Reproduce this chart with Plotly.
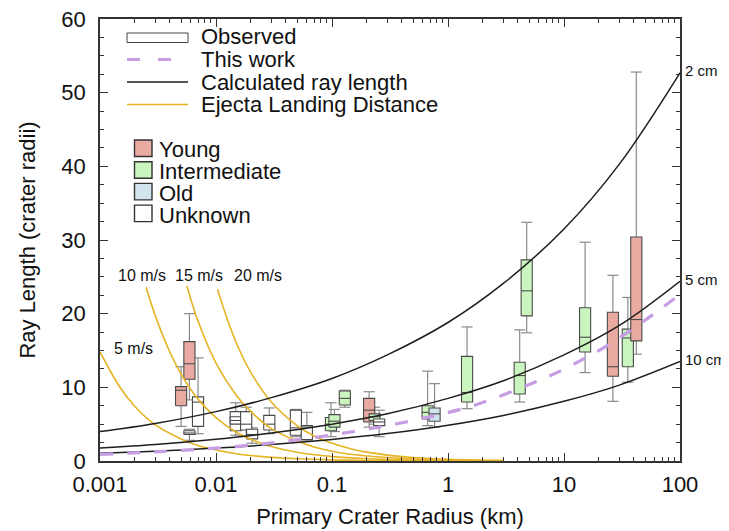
import plotly.graph_objects as go
import math

# ---------------- data ----------------
# Calculated ray length curves (crater radii) vs primary crater radius (km)
ray_x = [0.001, 0.003, 0.01, 0.03, 0.1, 0.3, 1, 3, 10, 30, 100]
ray_2cm = [4.0, 5.1, 6.7, 8.6, 11.2, 14.4, 18.8, 24.1, 31.5, 40.3, 52.7]
ray_5cm = [1.75, 2.24, 2.96, 3.79, 5.0, 6.4, 8.5, 10.9, 14.4, 18.4, 24.4]
ray_10cm = [1.05, 1.34, 1.75, 2.23, 2.92, 3.72, 4.86, 6.19, 8.1, 10.3, 13.5]
ray_labels = ["2 cm", "5 cm", "10 cm"]

# "This work" dashed curve
work_x = [0.001, 0.003, 0.01, 0.03, 0.14, 0.5, 1.64, 5.4, 9.8, 28, 100]
work_y = [0.9, 1.25, 1.75, 2.45, 3.9, 5.5, 7.5, 10.6, 12.4, 16.4, 22.6]

# Ejecta landing distance curves
ej5_x = [0.001, 0.0015, 0.002, 0.003, 0.005, 0.007, 0.01, 0.015, 0.02, 0.03, 0.05, 0.1, 0.2, 0.5, 1, 3]
ej5_y = [14.8, 9.9, 7.4, 4.9, 3.0, 2.1, 1.5, 0.99, 0.74, 0.49, 0.30, 0.15, 0.07, 0.03, 0.015, 0.005]
ej10_x = [0.0025, 0.003, 0.004, 0.005, 0.007, 0.01, 0.015, 0.02, 0.03, 0.05, 0.1, 0.2, 0.5, 1, 3]
ej10_y = [23.6, 19.7, 14.8, 11.8, 8.4, 5.9, 3.9, 2.95, 1.97, 1.18, 0.59, 0.3, 0.12, 0.06, 0.02]
ej15_x = [0.0056, 0.007, 0.01, 0.015, 0.02, 0.03, 0.05, 0.07, 0.1, 0.2, 0.5, 1, 3]
ej15_y = [23.8, 19.0, 13.3, 8.9, 6.7, 4.4, 2.7, 1.9, 1.33, 0.67, 0.27, 0.13, 0.04]
ej20_x = [0.0103, 0.013, 0.016, 0.02, 0.03, 0.05, 0.07, 0.1, 0.15, 0.2, 0.3, 0.5, 1, 3]
ej20_y = [23.3, 18.5, 15.0, 12.0, 8.0, 4.8, 3.4, 2.4, 1.6, 1.2, 0.8, 0.48, 0.24, 0.08]
ej_labels = ["5 m/s", "10 m/s", "15 m/s", "20 m/s"]
ej_label_x = [0.00194, 0.0023, 0.0072, 0.0228]
ej_label_y = [15.3, 25.2, 25.2, 25.2]

# Observed box plots (drawing order), category: Y young, I intermediate, O old, U unknown
box_x = [0.005, 0.0059, 0.0070, 0.0059,
         0.0148, 0.0148, 0.0182, 0.0205, 0.0288, 0.0488, 0.0607,
         0.098, 0.105, 0.129, 0.209, 0.233, 0.255,
         0.667, 0.766, 1.46, 4.15, 4.77, 15.2, 26.4, 35.5, 42.0]
box_lo = [4.7, 8.3, 3.7, 2.8,
          3.5, 4.6, 3.4, 2.4, 3.7, 3.3, 2.7,
          3.3, 4.0, 7.3, 4.6, 5.0, 3.3,
          4.8, 4.6, 7.1, 8.0, 17.4, 12.0, 8.1, 10.7, 14.5]
box_q1 = [7.5, 11.1, 4.7, 3.6,
          4.1, 5.0, 4.2, 3.0, 4.2, 3.5, 2.9,
          4.1, 4.6, 7.6, 5.3, 5.5, 4.8,
          5.7, 5.4, 8.0, 9.1, 19.7, 14.8, 11.5, 12.8, 16.3]
box_med = [9.6, 13.2, 8.0, 3.8,
           5.5, 5.5, 5.0, 3.6, 5.0, 4.5, 4.6,
           5.0, 5.4, 8.5, 6.9, 6.0, 5.3,
           6.6, 6.4, 9.3, 11.6, 23.1, 16.8, 12.8, 16.7, 19.2]
box_q3 = [10.1, 16.2, 8.7, 4.1,
          6.7, 6.0, 6.7, 4.3, 6.2, 6.9, 4.8,
          5.9, 6.3, 9.5, 8.5, 6.4, 5.7,
          7.5, 7.2, 14.2, 13.4, 27.3, 20.8, 20.2, 17.9, 30.4]
box_hi = [12.8, 20.0, 14.0, 4.3,
          7.9, 6.4, 7.3, 4.5, 7.2, 7.0, 6.6,
          7.9, 7.0, 9.6, 9.4, 7.3, 6.9,
          12.2, 10.5, 18.2, 17.8, 32.4, 29.7, 25.2, 22.2, 52.8]
box_cat = ["Y", "Y", "U", "U",
           "U", "U", "U", "U", "U", "U", "U",
           "I", "I", "I", "Y", "I", "U",
           "I", "O", "I", "I", "I", "I", "Y", "I", "Y"]

cat_names = ["Young", "Intermediate", "Old", "Unknown"]
cat_keys = ["Y", "I", "O", "U"]

# ---------------- styles ----------------
FONT = "Liberation Sans, Arial, Helvetica, sans-serif"
cat_fill = {"Y": "#e9aba1", "I": "#cbf5bf", "O": "#d2e5ee", "U": "#ffffff"}
BOX_EDGE = "#4a4a4a"
WHISK = "#8a8a8a"
GOLD = "#e5b323"
PURPLE = "#c79de3"
BLACK = "#1e1e1e"
HALF = 10 ** 0.048  # box half-width factor on log axis

fig = go.Figure()

# whiskers (under boxes)
wx, wy = [], []
for x, lo, q1, q3, hi in zip(box_x, box_lo, box_q1, box_q3, box_hi):
    x0, x1 = x / HALF, x * HALF
    wx += [x, x, None, x, x, None, x0, x1, None, x0, x1, None]
    wy += [lo, q1, None, q3, hi, None, lo, lo, None, hi, hi, None]
fig.add_trace(go.Scatter(x=wx, y=wy, mode="lines", line=dict(color=WHISK, width=1.2),
                         hoverinfo="skip", showlegend=False))

# boxes with medians
for x, q1, med, q3, cat in zip(box_x, box_q1, box_med, box_q3, box_cat):
    x0, x1 = x / HALF, x * HALF
    fig.add_trace(go.Scatter(
        x=[x0, x1, x1, x0, x0, None, x0, x1],
        y=[q1, q1, q3, q3, q1, None, med, med],
        mode="lines", fill="toself", fillcolor=cat_fill[cat],
        line=dict(color=BOX_EDGE, width=1.1), showlegend=False, hoverinfo="skip"))

# ejecta landing distance curves
for ex, ey in [(ej5_x, ej5_y), (ej10_x, ej10_y), (ej15_x, ej15_y), (ej20_x, ej20_y)]:
    fig.add_trace(go.Scatter(x=ex, y=ey, mode="lines", line=dict(color=GOLD, width=1.6, shape="spline"),
                             showlegend=False, hoverinfo="skip"))

# calculated ray length curves
for ry in [ray_2cm, ray_5cm, ray_10cm]:
    fig.add_trace(go.Scatter(x=ray_x, y=ry, mode="lines", line=dict(color=BLACK, width=1.5, shape="spline"),
                             showlegend=False, hoverinfo="skip"))

# this work
fig.add_trace(go.Scatter(x=work_x, y=work_y, mode="lines",
                         line=dict(color=PURPLE, width=3.2, dash="13px,14px", shape="spline"),
                         showlegend=False, hoverinfo="skip"))

annotations = []
# curve labels on the right
for lab, ry in zip(ray_labels, [ray_2cm, ray_5cm, ray_10cm]):
    annotations.append(dict(x=math.log10(ray_x[-1]), y=ry[-1], xref="x", yref="y", text=lab,
                            showarrow=False, xanchor="left", yanchor="middle", xshift=3, yshift=2,
                            font=dict(family=FONT, size=15, color="#111")))
# velocity labels
for lab, lx, ly in zip(ej_labels, ej_label_x, ej_label_y):
    annotations.append(dict(x=math.log10(lx), y=ly, xref="x", yref="y", text=lab, showarrow=False,
                            xanchor="center", yanchor="middle",
                            font=dict(family=FONT, size=16, color="#111")))

# ---------------- layout in page pixels (page body has an 8px margin) ----------------
PAGE_OFF = 8
W, H = 729 - PAGE_OFF, 531 - PAGE_OFF
L, R, T, B = 100, 680, 19, 461   # plot area in page pixels
def px(p):
    return (p - L) / (R - L)
def py(p):
    return (B - p) / (B - T)

shapes = []
shapes.append(dict(type="rect", xref="paper", yref="paper", x0=px(127), x1=px(188), y0=py(42.5), y1=py(33),
                   line=dict(color="#444", width=1), fillcolor="white"))
shapes.append(dict(type="line", xref="paper", yref="paper", x0=px(127), x1=px(189), y0=py(59.5), y1=py(59.5),
                   line=dict(color=PURPLE, width=3.2, dash="13px,18px")))
shapes.append(dict(type="line", xref="paper", yref="paper", x0=px(127), x1=px(188), y0=py(82), y1=py(82),
                   line=dict(color=BLACK, width=1.3)))
shapes.append(dict(type="line", xref="paper", yref="paper", x0=px(127), x1=px(188), y0=py(104.5), y1=py(104.5),
                   line=dict(color=GOLD, width=1.6)))
leg1 = ["Observed", "This work", "Calculated ray length", "Ejecta Landing Distance"]
leg1_y = [37, 59.5, 82, 104.5]
for t, yy in zip(leg1, leg1_y):
    annotations.append(dict(x=px(199), y=py(yy), xref="paper", yref="paper", text=t, showarrow=False,
                            xanchor="left", yanchor="middle", font=dict(family=FONT, size=22, color="#111")))
for i, (k, nm) in enumerate(zip(cat_keys, cat_names)):
    top = 140 + i * 21.7
    shapes.append(dict(type="rect", xref="paper", yref="paper", x0=px(134.5), x1=px(152), y0=py(top + 16.5),
                       y1=py(top), line=dict(color="#333", width=1.4), fillcolor=cat_fill[k]))
    annotations.append(dict(x=px(157), y=py(top + 10), xref="paper", yref="paper", text=nm, showarrow=False,
                            xanchor="left", yanchor="middle", font=dict(family=FONT, size=22, color="#111")))

minor_vals = [m * 10 ** d for d in range(-3, 2) for m in range(2, 10)]

fig.update_layout(
    width=W, height=H,
    margin=dict(l=L - PAGE_OFF, r=W - (R - PAGE_OFF), t=T - PAGE_OFF, b=H - (B - PAGE_OFF), autoexpand=False),
    paper_bgcolor="white", plot_bgcolor="white",
    font=dict(family=FONT, size=22, color="#111"),
    shapes=shapes, annotations=annotations, showlegend=False,
)
fig.update_xaxes(
    type="log", range=[-3, 2], showgrid=False, zeroline=False, automargin=False,
    tickmode="array", tickvals=[0.001, 0.01, 0.1, 1, 10, 100],
    ticktext=["0.001", "0.01", "0.1", "1", "10", "100"],
    ticks="inside", ticklen=8, tickwidth=1, tickcolor="#333", ticklabelstandoff=3,
    ticklabeloverflow="allow",
    minor=dict(tickmode="array", tickvals=minor_vals, ticks="inside", ticklen=4, tickcolor="#333", showgrid=False),
    showline=True, linecolor="#333", linewidth=1.5, mirror="allticks",
    tickfont=dict(size=22, family=FONT, color="#111"),
    title=dict(text="Primary Crater Radius (km)", font=dict(size=22, family=FONT, color="#111"), standoff=12),
)
fig.update_yaxes(
    range=[0, 60], showgrid=False, zeroline=False, automargin=False,
    tickmode="linear", tick0=0, dtick=10,
    ticks="inside", ticklen=8, tickwidth=1, tickcolor="#333", ticklabelstandoff=8,
    ticklabeloverflow="allow",
    minor=dict(dtick=2.5, ticks="inside", ticklen=4, tickcolor="#333", showgrid=False),
    showline=True, linecolor="#333", linewidth=1.5, mirror="allticks",
    tickfont=dict(size=22, family=FONT, color="#111"),
    title=dict(text="Ray Length (crater radii)", font=dict(size=22, family=FONT, color="#111"), standoff=20),
)

fig.write_html("out.html")
